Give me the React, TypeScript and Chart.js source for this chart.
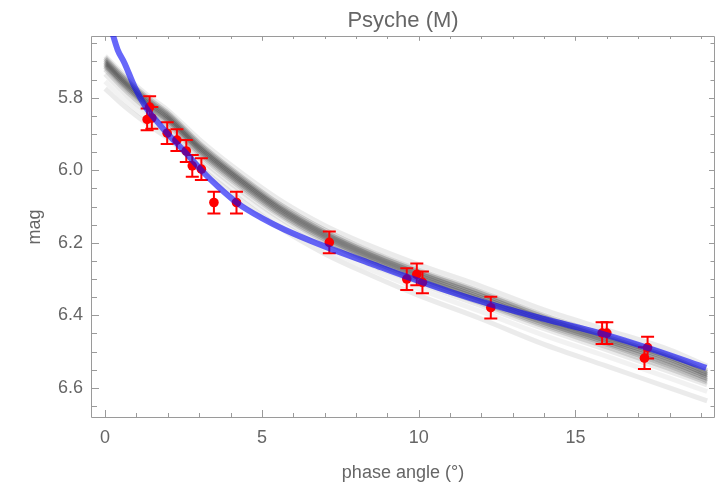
import { useEffect, useRef } from 'react';
import { Chart, registerables } from 'chart.js';

Chart.register(...registerables);

// Observations (phase angle in degrees, reduced magnitude)
const phaseAngle = [1.42, 1.34, 1.49, 1.98, 2.29, 2.59, 2.78, 3.07, 3.47, 4.19, 7.15, 9.62, 9.94, 10.12, 12.3, 15.85, 16.0, 17.3, 17.2];
const mag = [5.826, 5.86, 5.856, 5.898, 5.917, 5.947, 5.988, 5.997, 6.089, 6.089, 6.199, 6.3, 6.287, 6.309, 6.379, 6.449, 6.449, 6.489, 6.518];
const magErr = [0.03, 0.03, 0.03, 0.03, 0.03, 0.03, 0.03, 0.03, 0.03, 0.03, 0.03, 0.03, 0.03, 0.03, 0.03, 0.03, 0.03, 0.03, 0.03];

// Best-fit (blue) curve
const blueX = [0.15, 0.25, 0.4, 0.62, 0.94, 1.31, 1.6, 2.05, 2.5, 3.07, 3.6, 4.24, 5.0, 5.73, 7.0, 8.5, 9.5, 11.0, 12.3, 14.0, 15.94, 17.5, 19.17];
const blueY = [5.595, 5.627, 5.668, 5.705, 5.77, 5.828, 5.86, 5.905, 5.945, 6.0, 6.045, 6.092, 6.132, 6.164, 6.21, 6.258, 6.29, 6.335, 6.37, 6.41, 6.453, 6.495, 6.545];

// Ensemble (grey) curves
const greyX = [0, 0.5, 1, 1.5, 2, 3, 4, 5.5, 7, 8.5, 10, 12, 14, 16, 18, 19.2];
const grey1 = [5.685, 5.728, 5.768, 5.803, 5.835, 5.915, 5.985, 6.078, 6.152, 6.21, 6.26, 6.32, 6.385, 6.44, 6.495, 6.54];
const grey2 = [5.69, 5.735, 5.775, 5.81, 5.842, 5.925, 5.995, 6.09, 6.165, 6.225, 6.275, 6.335, 6.4, 6.455, 6.51, 6.553];
const grey3 = [5.695, 5.74, 5.78, 5.815, 5.847, 5.93, 6.0, 6.095, 6.17, 6.23, 6.28, 6.34, 6.405, 6.46, 6.515, 6.558];
const grey4 = [5.7, 5.745, 5.785, 5.82, 5.852, 5.935, 6.005, 6.1, 6.175, 6.235, 6.285, 6.346, 6.41, 6.465, 6.52, 6.563];
const grey5 = [5.705, 5.75, 5.79, 5.825, 5.857, 5.94, 6.01, 6.105, 6.18, 6.24, 6.29, 6.352, 6.415, 6.47, 6.527, 6.568];
const grey6 = [5.71, 5.755, 5.795, 5.83, 5.862, 5.945, 6.015, 6.11, 6.185, 6.245, 6.295, 6.357, 6.42, 6.475, 6.533, 6.574];
const grey7 = [5.715, 5.76, 5.8, 5.835, 5.867, 5.95, 6.02, 6.115, 6.19, 6.25, 6.3, 6.362, 6.425, 6.48, 6.54, 6.58];
const grey8 = [5.722, 5.767, 5.807, 5.842, 5.874, 5.956, 6.026, 6.12, 6.195, 6.255, 6.305, 6.367, 6.43, 6.487, 6.547, 6.585];
const grey9 = [5.735, 5.778, 5.818, 5.852, 5.884, 5.965, 6.035, 6.128, 6.202, 6.262, 6.312, 6.374, 6.437, 6.495, 6.555, 6.592];
const grey10 = [5.755, 5.797, 5.835, 5.868, 5.898, 5.977, 6.047, 6.14, 6.215, 6.275, 6.327, 6.39, 6.455, 6.513, 6.573, 6.61];
const grey11 = [5.775, 5.815, 5.85, 5.882, 5.912, 5.99, 6.06, 6.155, 6.23, 6.29, 6.345, 6.41, 6.48, 6.54, 6.6, 6.636];
const greyCurves = [grey1, grey2, grey3, grey4, grey5, grey6, grey7, grey8, grey9, grey10, grey11];
const greyAlpha = [0.08, 0.16, 0.2, 0.22, 0.22, 0.2, 0.17, 0.12, 0.08, 0.05, 0.08];

// Axes
const xMin = -0.45;
const xMax = 19.45;
const yMin = 5.63;
const yMax = 6.683;
const xTicks = [0, 5, 10, 15];
const yTicks = [5.8, 6.0, 6.2, 6.4, 6.6];
const xMinorTicks = [1, 2, 3, 4, 6, 7, 8, 9, 11, 12, 13, 14, 16, 17, 18, 19];
const yMinorTicks = [5.65, 5.7, 5.75, 5.85, 5.9, 5.95, 6.05, 6.1, 6.15, 6.25, 6.3, 6.35, 6.45, 6.5, 6.55, 6.65];

const FONT = "'Liberation Sans', Arial, sans-serif";
const TEXT = '#666666';
const FRAME = '#9a9a9a';

const framePlugin = {
  id: 'frameTicks',
  beforeDatasetsDraw(chart: any) {
    const { ctx, chartArea: a, scales } = chart;
    const xs = scales.x;
    const ys = scales.y;
    ctx.save();
    ctx.strokeStyle = FRAME;
    ctx.lineWidth = 1;
    ctx.beginPath();
    ctx.rect(a.left + 0.5, a.top + 0.5, a.right - a.left - 1, a.bottom - a.top - 1);
    ctx.stroke();
    const drawX = (vals: number[], len: number) => {
      vals.forEach((v) => {
        const px = Math.round(xs.getPixelForValue(v)) + 0.5;
        ctx.beginPath();
        ctx.moveTo(px, a.bottom);
        ctx.lineTo(px, a.bottom - len);
        ctx.moveTo(px, a.top);
        ctx.lineTo(px, a.top + len * 0.6);
        ctx.stroke();
      });
    };
    const drawY = (vals: number[], len: number) => {
      vals.forEach((v) => {
        const py = Math.round(ys.getPixelForValue(v)) + 0.5;
        ctx.beginPath();
        ctx.moveTo(a.left, py);
        ctx.lineTo(a.left + len, py);
        ctx.moveTo(a.right, py);
        ctx.lineTo(a.right - len * 0.75, py);
        ctx.stroke();
      });
    };
    drawX(xTicks, 8);
    drawX(xMinorTicks, 5);
    drawY(yTicks, 8);
    drawY(yMinorTicks, 6);
    ctx.restore();
  },
};

const RED_INDEX = 1;
const errorBarPlugin = {
  id: 'errorBars',
  beforeDatasetDraw(chart: any, args: any) {
    if (args.index !== RED_INDEX) return;
    const { ctx, scales } = chart;
    ctx.save();
    ctx.strokeStyle = '#ff0000';
    ctx.lineWidth = 2;
    phaseAngle.forEach((x, i) => {
      const px = scales.x.getPixelForValue(x);
      const y1 = scales.y.getPixelForValue(mag[i] - magErr[i]);
      const y2 = scales.y.getPixelForValue(mag[i] + magErr[i]);
      ctx.beginPath();
      ctx.moveTo(px, y1);
      ctx.lineTo(px, y2);
      ctx.moveTo(px - 6.5, y1);
      ctx.lineTo(px + 6.5, y1);
      ctx.moveTo(px - 6.5, y2);
      ctx.lineTo(px + 6.5, y2);
      ctx.stroke();
    });
    ctx.restore();
  },
};

export default function App() {
  const ref = useRef<HTMLCanvasElement | null>(null);

  useEffect(() => {
    if (!ref.current) return;
    const datasets: any[] = [];
    datasets.push({
      label: 'fit',
      data: blueX.map((x, i) => ({ x, y: blueY[i] })),
      showLine: true,
      borderColor: 'rgba(10,10,245,0.62)',
      borderWidth: 6,
      pointRadius: 0,
      cubicInterpolationMode: 'monotone',
      clip: 0,
      order: 0,
    });
    datasets.push({
      label: 'obs',
      data: phaseAngle.map((x, i) => ({ x, y: mag[i] })),
      showLine: false,
      pointRadius: 4.8,
      pointBackgroundColor: '#ff0000',
      pointBorderWidth: 0,
      borderColor: '#ff0000',
      order: 1,
    });
    greyCurves.forEach((g, k) => {
      datasets.push({
        label: 'g' + k,
        data: greyX.map((x, i) => ({ x, y: g[i] })),
        showLine: true,
        borderColor: `rgba(0,0,0,${greyAlpha[k]})`,
        borderWidth: 5,
        pointRadius: 0,
        cubicInterpolationMode: 'monotone',
        clip: 0,
        order: 2 + k,
      });
    });

    const chart = new Chart(ref.current, {
      type: 'scatter',
      data: { datasets },
      plugins: [framePlugin, errorBarPlugin],
      options: {
        responsive: false,
        animation: false,
        layout: { padding: { left: 0, right: 6, top: 0, bottom: 0 } },
        plugins: { legend: { display: false }, tooltip: { enabled: false }, title: { display: false } },
        scales: {
          x: {
            type: 'linear',
            position: 'bottom',
            min: xMin,
            max: xMax,
            afterBuildTicks: (s: any) => { s.ticks = xTicks.map((v) => ({ value: v })); },
            afterFit: (s: any) => { s.height = 72; },
            grid: { display: false, drawTicks: false },
            border: { display: false },
            ticks: { color: TEXT, font: { family: FONT, size: 18 }, padding: 9, maxRotation: 0, callback: (v: any) => String(v) },
            title: { display: true, text: 'phase angle (°)', color: TEXT, font: { family: FONT, size: 18 }, padding: { top: 0, bottom: 6 } },
          },
          x2: {
            type: 'linear',
            position: 'top',
            min: xMin,
            max: xMax,
            afterFit: (s: any) => { s.height = 36; },
            grid: { display: false, drawTicks: false },
            border: { display: false },
            ticks: { display: false },
            title: { display: true, text: 'Psyche (M)', color: TEXT, font: { family: FONT, size: 22 }, padding: { top: 8, bottom: 0 } },
          },
          y: {
            type: 'linear',
            reverse: true,
            min: yMin,
            max: yMax,
            afterBuildTicks: (s: any) => { s.ticks = yTicks.map((v) => ({ value: v })); },
            afterFit: (s: any) => { s.width = 91; },
            grid: { display: false, drawTicks: false },
            border: { display: false },
            ticks: { color: TEXT, font: { family: FONT, size: 18 }, padding: 8, callback: (v: any) => Number(v).toFixed(1) },
            title: { display: true, text: 'mag', color: TEXT, font: { family: FONT, size: 18 }, padding: { top: 24, bottom: 0 } },
          },
        },
      },
    });
    return () => chart.destroy();
  }, []);

  return (
    <div style={{ position: 'fixed', left: 0, top: 0, width: 721, height: 490, background: '#fff' }}>
      <canvas ref={ref} width={721} height={490} />
    </div>
  );
}
